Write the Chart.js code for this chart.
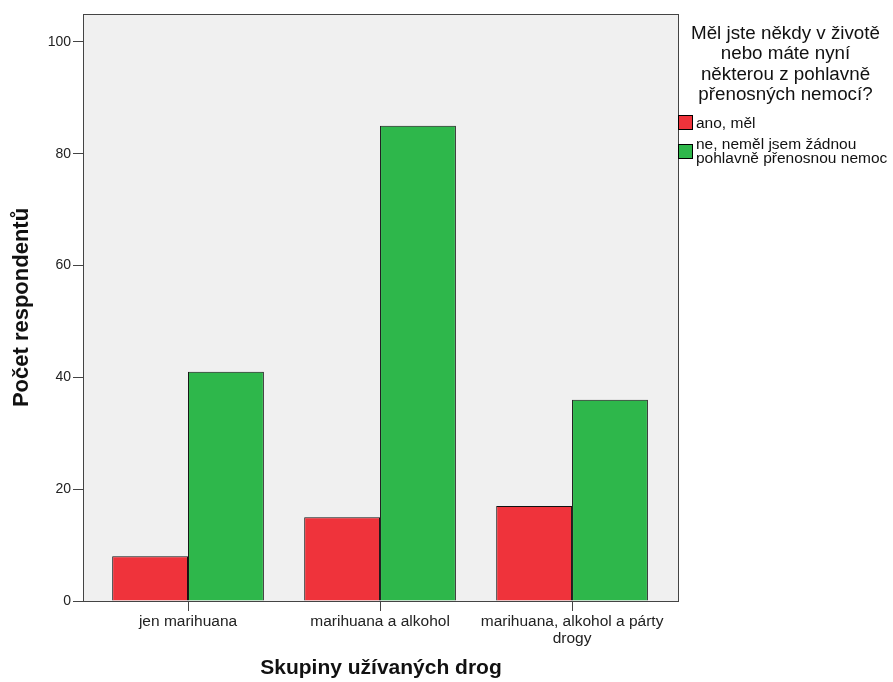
<!DOCTYPE html>
<html>
<head>
<meta charset="utf-8">
<script src="https://cdn.jsdelivr.net/npm/chart.js@4/dist/chart.umd.min.js"></script>
<style>
  body { margin: 0; background: #fff; font-family: "Liberation Sans", Arial, sans-serif; }
  #wrap { position: relative; width: 893px; height: 682px; overflow: hidden; }
  #legend { position: absolute; left: 678px; top: 23px; width: 215px; color: #111; }
  #legend .title { font-size: 18.8px; line-height: 20.3px; text-align: center; white-space: pre-line; margin-bottom: 11px; }
  #legend .item { display: flex; align-items: center; font-size: 15.5px; line-height: 14px; margin-bottom: 7px; white-space: pre; }
  #legend .box { width: 13px; height: 13px; border: 1px solid #000; margin-right: 3px; flex: none; }
</style>
</head>
<body>
<div id="wrap">
  <canvas id="chart"></canvas>
  <div id="legend"></div>
</div>
<script>
const categories = ['jen marihuana', 'marihuana a alkohol', ['marihuana, alkohol a párty', 'drogy']];
const seriesNames = ['ano, měl', 'ne, neměl jsem žádnou\npohlavně přenosnou nemoc'];
const anoValues = [8, 15, 17];
const neValues = [41, 85, 36];
const yTicks = [0, 20, 40, 60, 80, 100];
const legendTitle = 'Měl jste někdy v životě\nnebo máte nyní\nněkterou z pohlavně\npřenosných nemocí?';
const colors = ['rgb(239,51,59)', 'rgb(46,183,75)'];

// plot background and frame like SPSS
const framePlugin = {
  id: 'frame',
  beforeDatasetsDraw(chart) {
    const { ctx, chartArea: a } = chart;
    ctx.save();
    ctx.fillStyle = '#f0f0f0';
    ctx.fillRect(a.left, a.top, a.right - a.left, a.bottom - a.top);
    ctx.restore();
  },
  afterDraw(chart) {
    const { ctx, chartArea: a } = chart;
    ctx.save();
    ctx.strokeStyle = '#444';
    ctx.lineWidth = 1;
    ctx.strokeRect(a.left + 0.5, a.top + 0.5, a.right - a.left - 1, a.bottom - a.top);
    ctx.restore();
  }
};

const ctx = document.querySelector('#chart');
const chart = new Chart(ctx, {
  type: 'bar',
  data: {
    labels: categories,
    datasets: [
      { label: seriesNames[0], data: anoValues, backgroundColor: colors[0], borderColor: '#111', borderWidth: 1 },
      { label: seriesNames[1], data: neValues, backgroundColor: colors[1], borderColor: '#111', borderWidth: 1 }
    ]
  },
  options: {
    responsive: true,
    maintainAspectRatio: false,
    animation: false,
    datasets: { bar: { categoryPercentage: 0.79, barPercentage: 1 } },
    layout: { padding: { top: 14, right: 214, left: 0, bottom: 0 } },
    scales: {
      x: {
        offset: true,
        border: { display: false },
        grid: { offset: false, drawOnChartArea: false, drawTicks: true, tickLength: 10, color: '#444' },
        ticks: { color: '#222', font: { family: 'Liberation Sans', size: 15.5, lineHeight: 1.1 }, padding: 2, maxRotation: 0 },
        // a bit more room at both ends than plain offset gives
        afterBuildTicks(scale) { scale._startValue = -0.547; scale._valueRange = 3.104; },
        title: { display: true, text: 'Skupiny užívaných drog', color: '#111',
          font: { family: 'Liberation Sans', size: 21, weight: 'bold' }, padding: { top: 0, bottom: 1.4 } },
        afterFit(scale) { scale.height = 81; }
      },
      y: {
        min: 0,
        max: 105,
        border: { display: false },
        grid: { drawOnChartArea: false, drawTicks: true, tickLength: 10, color: '#444' },
        ticks: { color: '#222', font: { family: 'Liberation Sans', size: 14 }, padding: 2 },
        afterBuildTicks(scale) { scale.ticks = yTicks.map(v => ({ value: v })); },
        title: { display: true, text: 'Počet respondentů', color: '#111',
          font: { family: 'Liberation Sans', size: 22, weight: 'bold' }, padding: { top: 8.8, bottom: 0 } },
        afterFit(scale) { scale.width = 83; }
      }
    },
    plugins: {
      legend: { display: false },
      tooltip: { enabled: false }
    }
  },
  plugins: [framePlugin]
});

// legend built from the datasets
const legend = document.querySelector('#legend');
const titleEl = document.createElement('div');
titleEl.className = 'title';
titleEl.textContent = legendTitle;
legend.appendChild(titleEl);
chart.data.datasets.forEach(ds => {
  const item = document.createElement('div');
  item.className = 'item';
  const box = document.createElement('span');
  box.className = 'box';
  box.style.background = ds.backgroundColor;
  const text = document.createElement('span');
  text.textContent = ds.label;
  item.appendChild(box);
  item.appendChild(text);
  legend.appendChild(item);
});
</script>
</body>
</html>
